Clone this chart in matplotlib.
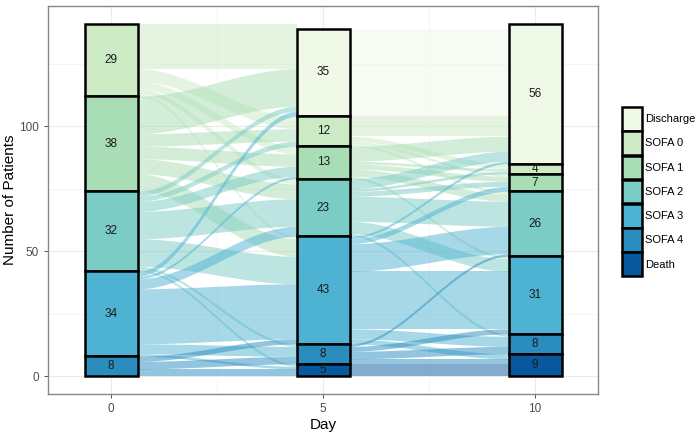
import numpy as np
import matplotlib.pyplot as plt
from matplotlib.patches import Patch

plt.rcParams['font.family'] = ['Liberation Sans', 'DejaVu Sans']

# --- data ---
days = [0, 5, 10]
states = ["Discharge", "SOFA 0", "SOFA 1", "SOFA 2", "SOFA 3", "SOFA 4", "Death"]
colors = ["#f0f9e8", "#ccebc5", "#a8ddb5", "#7bccc4", "#4eb3d3", "#2b8cbe", "#08589e"]

counts_day0 = [0, 29, 38, 32, 34, 8, 0]
counts_day5 = [35, 12, 13, 23, 43, 8, 5]
counts_day10 = [56, 4, 7, 26, 31, 8, 9]
missing = [0, 2, 0]  # patients without a record on that day

# rows = state on the earlier day, cols = state on the later day
# index 0 is "missing", then Discharge ... Death
flows_0_5 = [
    [0, 0, 0, 0, 0, 0, 0, 0],
    [0, 0, 0, 0, 0, 0, 0, 0],
    [2, 16, 5, 3, 2, 1, 0, 0],
    [0, 15, 5, 5, 6, 7, 0, 0],
    [0, 2, 2, 4, 11, 11, 1, 1],
    [0, 2, 0, 1, 4, 22, 4, 1],
    [0, 0, 0, 0, 0, 2, 3, 3],
    [0, 0, 0, 0, 0, 0, 0, 0],
]
flows_5_10 = [
    [0, 2, 0, 0, 0, 0, 0, 0],
    [0, 35, 0, 0, 0, 0, 0, 0],
    [0, 8, 2, 1, 1, 0, 0, 0],
    [0, 6, 1, 2, 3, 1, 0, 0],
    [0, 4, 1, 2, 10, 5, 1, 0],
    [0, 1, 0, 2, 11, 23, 4, 2],
    [0, 0, 0, 0, 1, 2, 3, 2],
    [0, 0, 0, 0, 0, 0, 0, 5],
]

bar_w = 1.25


def stack_tops(counts, n_missing):
    # top of each state, missing patients sit above Discharge
    full = [n_missing] + list(counts)
    cur = sum(full)
    tops = []
    for c in full:
        tops.append(cur)
        cur -= c
    return tops


def draw_flows(ax, mat, x0, x1, tops_l, tops_r):
    left = list(tops_l)
    right = list(tops_r)
    xs = np.linspace(x0, x1, 80)
    s = (xs - x0) / (x1 - x0)
    s = s * s * (3 - 2 * s)
    for i, row in enumerate(mat):
        for j, n in enumerate(row):
            if n == 0:
                continue
            yl, yr = left[i], right[j]
            left[i] -= n
            right[j] -= n
            if i == 0:
                continue  # no colour for missing records
            top = yl + (yr - yl) * s
            ax.fill_between(xs, top - n, top, color=colors[i - 1],
                            alpha=0.5, lw=0, zorder=2)


fig = plt.figure(figsize=(7, 4.32), dpi=100)
ax = fig.add_axes([0.0686, 0.088, 0.786, 0.898])

all_counts = [counts_day0, counts_day5, counts_day10]
all_tops = [stack_tops(c, m) for c, m in zip(all_counts, missing)]

draw_flows(ax, flows_0_5, days[0] + bar_w / 2, days[1] - bar_w / 2,
           all_tops[0], all_tops[1])
draw_flows(ax, flows_5_10, days[1] + bar_w / 2, days[2] - bar_w / 2,
           all_tops[1], all_tops[2])

for d, counts, tops in zip(days, all_counts, all_tops):
    for k, n in enumerate(counts):
        if n == 0:
            continue
        bottom = tops[k + 1] - n
        ax.bar(d, n, bottom=bottom, width=bar_w, color=colors[k],
               edgecolor="black", linewidth=1.8, zorder=3)
        ax.text(d, bottom + n / 2, str(n), ha="center", va="center",
                fontsize=8.5, color="#1a1a1a", zorder=4)

ax.set_xlim(-1.49, 11.49)
ax.set_ylim(-7.05, 148.05)
ax.set_xticks(days)
ax.set_yticks([0, 50, 100])
ax.set_xticks([2.5, 7.5], minor=True)
ax.set_yticks([25, 75, 125], minor=True)
ax.grid(True, which="major", color="#ebebeb", lw=0.8, zorder=0)
ax.grid(True, which="minor", color="#f4f4f4", lw=0.6, zorder=0)
ax.set_axisbelow(True)
ax.tick_params(which="minor", length=0)
ax.tick_params(which="major", length=3, color="#333333", labelcolor="#4d4d4d",
               labelsize=8.5, width=0.6)
for sp in ax.spines.values():
    sp.set_color("#888888")
    sp.set_linewidth(1)
ax.set_xlabel("Day", fontsize=11, labelpad=2)
ax.set_ylabel("Number of Patients", fontsize=11, labelpad=1.5)

handles = [Patch(facecolor=c, edgecolor="black", linewidth=1.8) for c in colors]
fig.legend(handles, states, loc="upper left", bbox_to_anchor=(0.888, 0.752),
           frameon=False, fontsize=8, handlelength=1.85, handleheight=2.9,
           labelspacing=0.05, handletextpad=0.25, borderpad=0, borderaxespad=0)

fig.savefig("out.png", dpi=100)
